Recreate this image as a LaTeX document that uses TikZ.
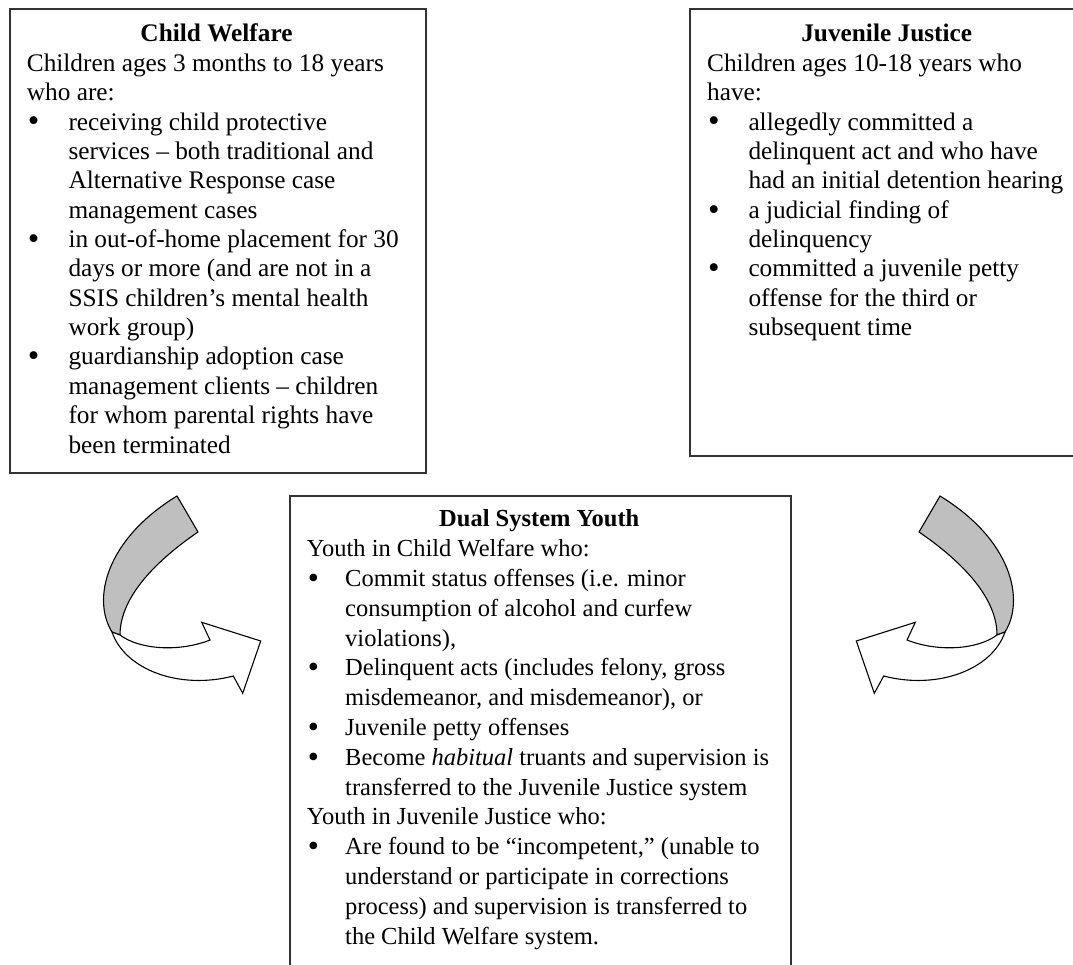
\documentclass[tikz,border=0pt]{standalone}
\usepackage{fontspec}
\setmainfont{Liberation Serif}
\newcommand\myb[1]{\makebox[#1][l]{\hspace{1pt}\raisebox{-1.8pt}{\scalebox{1.3}{•}}}}
\newcommand\myi[1]{\hspace*{#1}}
\newcommand\cwfont{\fontsize{25.3}{29.35}\selectfont}
\newcommand\dsfont{\fontsize{24.5}{29.8}\selectfont}
\begin{document}
\begin{tikzpicture}[x=1pt,y=-1pt,
  box/.style={draw=black!80, line width=2.4pt, inner sep=0pt, anchor=north west},
  ttl/.style={anchor=base, inner sep=0pt},
  body/.style={anchor=base west, inner sep=0pt},
  ribbon/.style={draw=black, line width=1.1pt, line join=miter},
]
\useasboundingbox (0,0) rectangle (1073,965);
\clip (0,0) rectangle (1073,965);
\fill[white] (0,0) rectangle (1073,965);

% boxes
\node[box, minimum width=416pt, minimum height=463.5pt] (cw) at (8.5,8) {};
\node[box, minimum width=396pt, minimum height=447.3pt] (jj) at (689,7.7) {};
\node[box, minimum width=501.3pt, minimum height=500pt] (dsy) at (288.7,495) {};

% Child Welfare
\node[ttl, font=\cwfont\bfseries] (cwt) at (216.5,41.7) {Child Welfare};
\node[body] (cwb) at (26.7,71.5) {\parbox[t]{395pt}{\cwfont\raggedright
Children ages 3 months to 18 years\\
who are:\\
\myb{41.6pt}receiving child protective\\
\myi{41.6pt}services – both traditional and\\
\myi{41.6pt}Alternative Response case\\
\myi{41.6pt}management cases\\
\myb{41.6pt}in out-of-home placement for 30\\
\myi{41.6pt}days or more (and are not in a\\
\myi{41.6pt}SSIS children’s mental health\\
\myi{41.6pt}work group)\\
\myb{41.6pt}guardianship adoption case\\
\myi{41.6pt}management clients – children\\
\myi{41.6pt}for whom parental rights have\\
\myi{41.6pt}been terminated}};

% Juvenile Justice
\node[ttl, font=\cwfont\bfseries] (jjt) at (886.7,41.7) {Juvenile Justice};
\node[body] (jjb) at (707,71.5) {\parbox[t]{395pt}{\cwfont\raggedright
Children ages 10-18 years who\\
have:\\
\myb{41.3pt}allegedly committed a\\
\myi{41.3pt}delinquent act and who have\\
\myi{41.3pt}had an initial detention hearing\\
\myb{41.3pt}a judicial finding of\\
\myi{41.3pt}delinquency\\
\myb{41.3pt}committed a juvenile petty\\
\myi{41.3pt}offense for the third or\\
\myi{41.3pt}subsequent time}};

% Dual System Youth
\node[ttl, font=\dsfont\bfseries] (dst) at (539.3,526.7) {Dual System Youth};
\node[body] (dsb) at (306.7,556.7) {\parbox[t]{480pt}{\dsfont\raggedright
Youth in Child Welfare who:\\
\myb{38.3pt}Commit status offenses (i.e. minor\\
\myi{38.3pt}consumption of alcohol and curfew\\
\myi{38.3pt}violations),\\
\myb{38.3pt}Delinquent acts (includes felony, gross\\
\myi{38.3pt}misdemeanor, and misdemeanor), or\\
\myb{38.3pt}Juvenile petty offenses\\
\myb{38.3pt}Become \textit{habitual} truants and supervision is\\
\myi{38.3pt}transferred to the Juvenile Justice system\\
Youth in Juvenile Justice who:\\
\myb{38.3pt}Are found to be “incompetent,” (unable to\\
\myi{38.3pt}understand or participate in corrections\\
\myi{38.3pt}process) and supervision is transferred to\\
\myi{38.3pt}the Child Welfare system.}};

% left twisted arrow
\filldraw[ribbon, fill=black!25] (177,496) -- (198,532) .. controls (160,558) and (120,595) .. (120,635) -- (112,632) .. controls (92,600) and (105,540) .. (177,496) -- cycle;
\filldraw[ribbon, fill=white] (112,632) .. controls (125,670) and (180,690) .. (233.3,676) -- (242.7,693.3) -- (260.7,641) -- (201.7,622.3) -- (210,640) .. controls (180,652) and (140,650) .. (120,635) -- cycle;

% right twisted arrow
\filldraw[ribbon, fill=black!25] (940,496) -- (919,532) .. controls (957,558) and (997,595) .. (997,635) -- (1005,632) .. controls (1025,600) and (1012,540) .. (940,496) -- cycle;
\filldraw[ribbon, fill=white] (1005,632) .. controls (992,670) and (937,690) .. (883.7,676) -- (874.3,693.3) -- (856.3,641) -- (915.3,622.3) -- (907,640) .. controls (937,652) and (977,650) .. (997,635) -- cycle;
\end{tikzpicture}
\end{document}
